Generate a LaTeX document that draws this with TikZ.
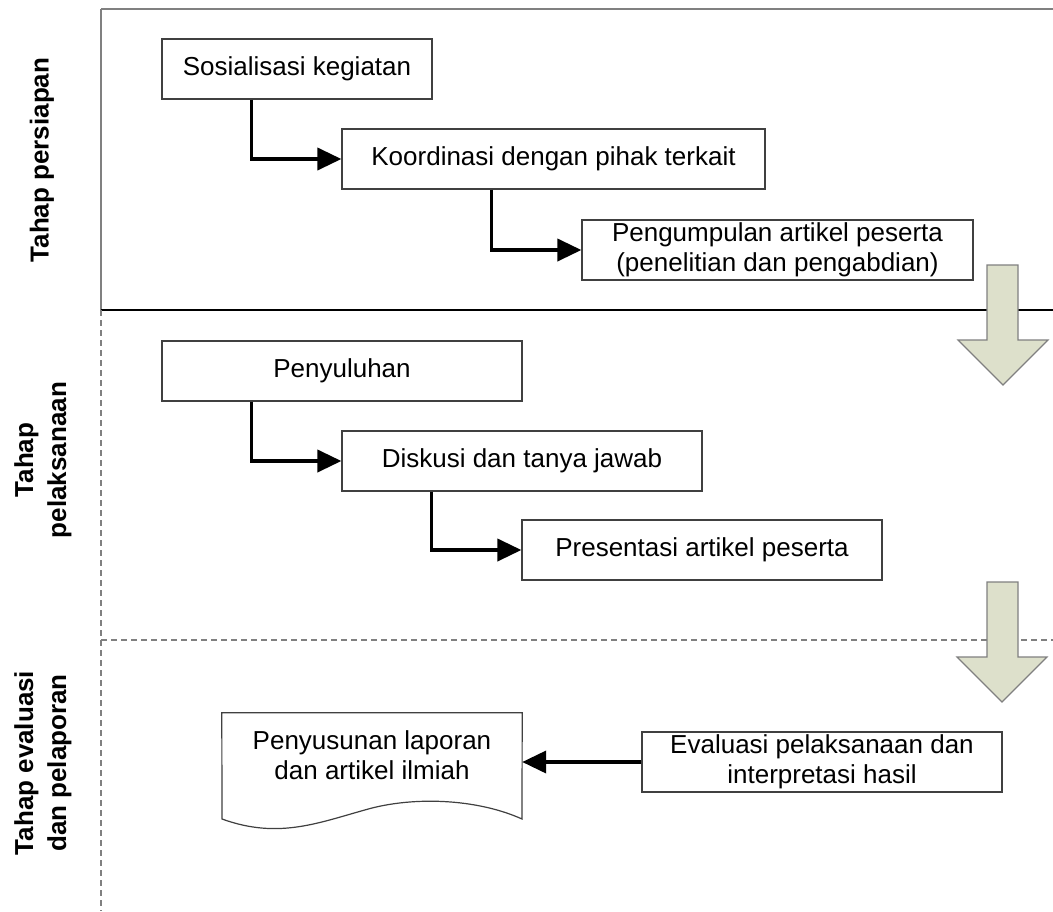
\documentclass[tikz,border=0pt]{standalone}
\usepackage{fontspec}
\setmainfont{Liberation Sans}
\usetikzlibrary{arrows.meta}
\definecolor{blockfill}{HTML}{DDE0CB}
\definecolor{boxline}{HTML}{404040}
\tikzset{
  procbox/.style={draw=boxline, line width=1.2pt, fill=white, inner sep=0pt, align=center,
    font=\fontsize{26}{30}\selectfont},
  conn/.style={line width=3.8pt, -{Triangle[length=24pt,width=22pt]}},
  sidelabel/.style={rotate=90, align=center, font=\fontsize{26}{33}\selectfont\bfseries},
  blockarrow/.style={draw=gray, line width=1.2pt, fill=blockfill, line join=miter},
  lanedash/.style={draw=gray, line width=1.2pt, dash pattern=on 6pt off 4pt}
}
\begin{document}
\begin{tikzpicture}[x=1pt,y=-1pt]
\useasboundingbox (0,0) rectangle (1053,911);
% lane lines
\draw[gray, line width=1.5pt] (101,9) -- (1053,9);
\draw[gray, line width=1.5pt] (101,9) -- (101,310);
\draw[black, line width=1.2pt] (101,310) -- (1053,310);
\draw[lanedash] (101,310) -- (101,911);
\draw[lanedash] (101,640) -- (1053,640);
% side labels
\node[sidelabel] (lab1) at (42,160) {Tahap persiapan};
\node[sidelabel] (lab2) at (43,460) {Tahap\\pelaksanaan};
\node[sidelabel] (lab3) at (43,763) {Tahap evaluasi\\dan pelaporan};
% boxes
\node[procbox, minimum width=270pt, minimum height=60pt] (b1) at (297,69) {Sosialisasi kegiatan};
\node[procbox, minimum width=423pt, minimum height=60pt] (b2) at (553.5,159) {Koordinasi dengan pihak terkait};
\node[procbox, minimum width=391pt, minimum height=60pt] (b3) at (777.5,250) {Pengumpulan artikel peserta\\(penelitian dan pengabdian)};
\node[procbox, minimum width=360pt, minimum height=60pt] (b4) at (342,371) {Penyuluhan};
\node[procbox, minimum width=360pt, minimum height=60pt] (b5) at (522,461) {Diskusi dan tanya jawab};
\node[procbox, minimum width=360pt, minimum height=60pt] (b6) at (702,550) {Presentasi artikel peserta};
\node[procbox, minimum width=360pt, minimum height=60pt] (b8) at (822,762) {Evaluasi pelaksanaan dan\\interpretasi hasil};
% document shape
\node[inner sep=0pt, minimum width=300pt, minimum height=106pt] (doc) at (372,766) {};
\draw[draw=boxline, line width=1.2pt, fill=white]
  (doc.north west) -- (doc.north east) -- (522,819)
  .. controls (480,800) and (420,796) .. (372,808)
  .. controls (320,822) and (280,840) .. (222,819) -- cycle;
\node[align=center, font=\fontsize{26}{30}\selectfont] (doctext) at (372,755) {Penyusunan laporan\\dan artikel ilmiah};
% connectors
\draw[conn] ([xshift=90pt]b1.south west) |- (b2.west);
\draw[conn] ([xshift=150pt]b2.south west) |- (b3.west);
\draw[conn] ([xshift=90pt]b4.south west) |- (b5.west);
\draw[conn] ([xshift=90pt]b5.south west) |- (b6.west);
\draw[conn] (b8.west) -- (b8.west -| doc.east);
% block arrows
\draw[blockarrow] (987,265) -- (1018,265) -- (1018,340) -- (1048,340) -- (1003,385) -- (958,340) -- (987,340) -- cycle;
\draw[blockarrow] (987,582) -- (1018,582) -- (1018,657) -- (1047,657) -- (1002,702) -- (957,657) -- (987,657) -- cycle;
\end{tikzpicture}
\end{document}
